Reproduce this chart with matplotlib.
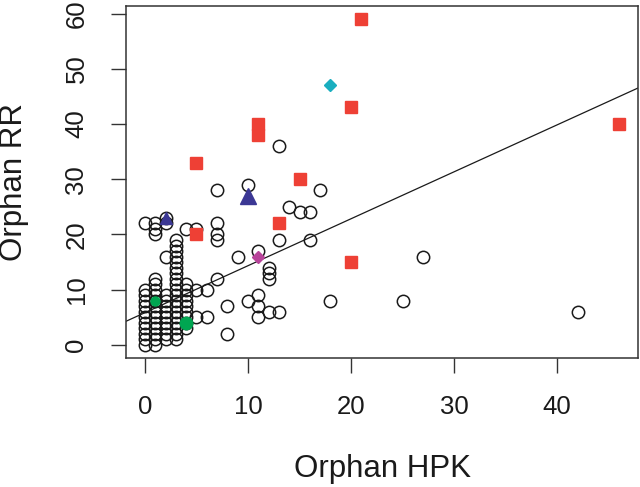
import numpy as np
import matplotlib
matplotlib.use("Agg")
import matplotlib.pyplot as plt

# =========================
# Data
# =========================
# open circles: x value -> list of y values
circle_x = ([0] * 12 + [1] * 16 + [2] * 12 + [3] * 19 + [4] * 10
            + [5, 5, 5, 6, 6, 7, 7, 7, 7, 7, 8, 8, 9, 10, 10,
               11, 11, 11, 11, 12, 12, 12, 12, 13, 13, 13,
               14, 15, 16, 16, 17, 18, 25, 27, 42])
circle_y = (list(range(0, 11)) + [22]
            + list(range(0, 13)) + [20, 21, 22]
            + list(range(1, 10)) + [16, 22, 23]
            + list(range(1, 20))
            + list(range(3, 12)) + [21]
            + [5, 10, 21, 5, 10, 12, 19, 20, 22, 28, 2, 7, 16, 8, 29,
               5, 7, 9, 17, 6, 12, 13, 14, 6, 19, 36,
               25, 24, 19, 24, 28, 8, 8, 16, 6])

red_x = [5, 11, 11, 15, 21, 20, 46, 13, 5, 20]
red_y = [33, 38, 40, 30, 59, 43, 40, 22, 20, 15]

blue_big = ([10], [27])
blue_small = ([2], [23])
green_big = ([4], [4])
green_small = ([1], [8])
cyan = ([18], [47])
magenta = ([11], [16])

fit_intercept = 5.85
fit_slope = 0.85

# =========================
# Plot
# =========================
plt.rcParams['font.family'] = ['Liberation Sans', 'DejaVu Sans']

fig = plt.figure(figsize=(6.4, 4.87), dpi=100)
ax = fig.add_axes([126 / 640, 1 - 358 / 487, 512 / 640, 352 / 487])

ax.plot(circle_x, circle_y, 'o', ms=8.9, mfc='none', mec='#1a1a1a', mew=1.1, ls='none')

ax.axline((0, fit_intercept), slope=fit_slope, color='#1a1a1a', lw=0.9)

ax.plot(red_x, red_y, 's', ms=8.6, color='#ee4035', ls='none')
ax.plot(*blue_big, '^', ms=12, color='#3b3794', ls='none')
ax.plot(*blue_small, '^', ms=8.5, color='#3b3794', ls='none')
ax.plot(*green_big, 'o', ms=9, color='#00a651', ls='none')
ax.plot(*green_small, 'o', ms=6.5, color='#00a651', ls='none')
ax.plot(*cyan, 'D', ms=6.5, color='#1aaebf', ls='none')
ax.plot(*magenta, 'D', ms=6.3, color='#b8449a', ls='none')

# R-style ranges (4% padding)
ax.set_xlim(-1.84, 47.84)
ax.set_ylim(-2.36, 61.36)
ax.set_xticks([0, 10, 20, 30, 40])
ax.set_yticks([0, 10, 20, 30, 40, 50, 60])
for lab in ax.get_yticklabels():
    lab.set_rotation(90)
    lab.set_va('center')

for sp in ax.spines.values():
    sp.set_color('#333333')
    sp.set_linewidth(1.1)
ax.tick_params(direction='out', length=11, width=1.0, color='#333333',
               labelsize=18.5, pad=16, labelcolor='#1a1a1a')

fig.text(382 / 640, 1 - 469 / 487, 'Orphan HPK', ha='center', va='center',
         fontsize=22.5, color='#1a1a1a')
fig.text(14 / 640, 1 - 182 / 487, 'Orphan RR', ha='center', va='center',
         rotation=90, fontsize=22.5, color='#1a1a1a')

fig.savefig('out.png', dpi=100)
